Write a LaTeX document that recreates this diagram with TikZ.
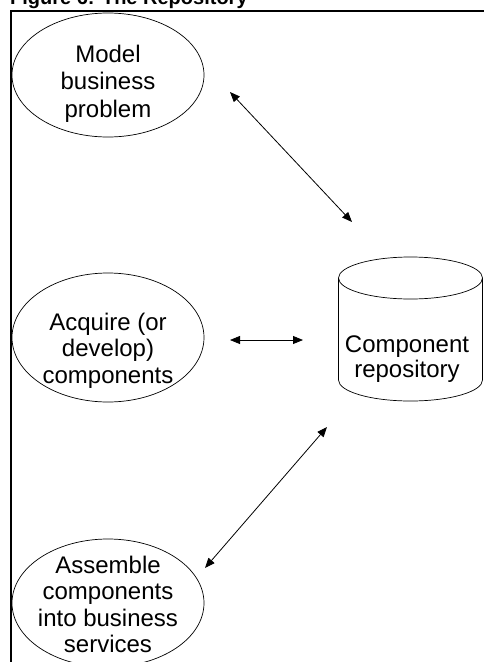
\documentclass[tikz,border=0pt]{standalone}
\usepackage{fontspec}
\setmainfont{Liberation Sans}
\usetikzlibrary{shapes.geometric,arrows.meta}
\begin{document}
\begin{tikzpicture}[x=1pt,y=1pt,
  proc/.style={ellipse, draw, line width=0.7pt, minimum width=192pt, inner sep=0pt},
  lbl/.style={align=center, inner sep=0pt, anchor=north, font=\fontsize{24}{26.5}\selectfont},
  link/.style={line width=0.8pt, {Triangle[length=10pt,width=8pt]}-{Triangle[length=10pt,width=8pt]}},
  frameline/.style={line width=2.2pt},
  shapeline/.style={line width=0.7pt}]
\useasboundingbox (0,0) rectangle (483,-662);
\node[anchor=base west, inner sep=0pt, font=\bfseries\fontsize{20}{24}\selectfont] (title) at (10,-4) {Figure 6: The Repository};
\draw[frameline] (11,-663) -- (11,-11) -- (484,-11);

\node[proc, minimum height=124pt] (e1) at (108,-75) {};
\node[lbl, font=\fontsize{24}{27.5}\selectfont] (t1) at (108,-42.75) {\strut Model\\\strut business\\\strut problem};

\node[proc, minimum height=129pt] (e2) at (108,-337.5) {};
\node[lbl] (t2) at (108,-311.45) {\strut Acquire (or\\\strut develop)\\\strut components};

\node[proc, minimum height=128pt] (e3) at (108,-603) {};
\node[lbl] (t3) at (108,-554.45) {\strut Assemble\\\strut components\\\strut into business\\\strut services};

\draw[shapeline] (338.5,-278) -- (338.5,-380) arc[start angle=180,end angle=360,x radius=72pt,y radius=21pt] -- (482.5,-278);
\draw[shapeline] (410.5,-278) ellipse[x radius=72pt, y radius=21pt];
\node[lbl, font=\fontsize{24}{25}\selectfont] (cyl) at (407,-334.5) {\strut Component\\\strut repository};

\coordinate (a1s) at (230,-92);
\coordinate (a1e) at (352,-222);
\coordinate (a2s) at (230,-340);
\coordinate (a2e) at (303,-340);
\coordinate (a3s) at (327,-427);
\coordinate (a3e) at (205,-568);
\draw[link] (a1s) -- (a1e);
\draw[link] (a2s) -- (a2e);
\draw[link] (a3s) -- (a3e);
\end{tikzpicture}
\end{document}
